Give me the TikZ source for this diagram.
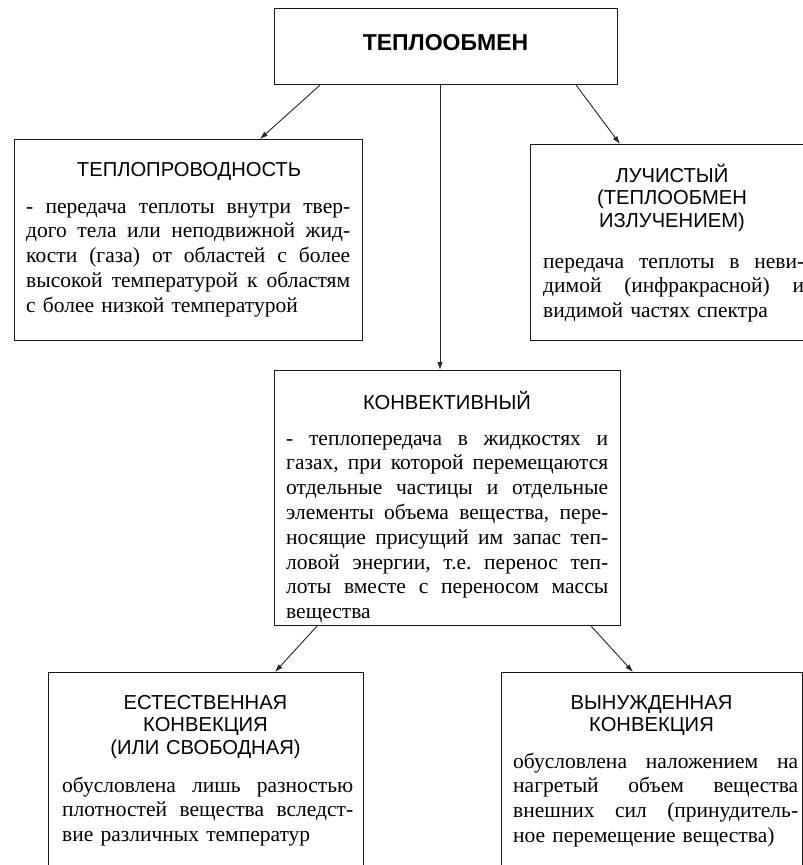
\documentclass[tikz,border=0pt]{standalone}
\usepackage{fontspec}
\setmainfont{Liberation Serif}
\newfontfamily\sansf{Liberation Sans}
\usetikzlibrary{arrows.meta,calc}
\frenchspacing
\newcommand{\jl}[1]{\makebox[\hsize][s]{\spaceskip=0pt\xspaceskip=0pt #1}\\}
\begin{document}
\begin{tikzpicture}[x=1pt,y=-1pt,
  box/.style={draw=black!90, line width=1.1pt, inner sep=0pt, anchor=north west, fill=none},
  arr/.style={draw=black!85, line width=0.9pt, -{Latex[length=8pt,width=5.5pt]}},
  ttl/.style={inner sep=0pt, anchor=base, align=center, text width=320pt,
    font=\sansf\fontsize{20.2}{22.8}\selectfont},
  body/.style={inner sep=0pt, anchor=base west,
    font=\frenchspacing\fontsize{21.5}{24.8}\selectfont}]
\fill[white] (0,0) rectangle (803,865);
\useasboundingbox (0,0) rectangle (803,865);
% boxes
\node[box, minimum width=343pt, minimum height=76pt] (top) at (274,8) {};
\node[box, minimum width=348pt, minimum height=201pt] (tp) at (14,139) {};
\node[box, minimum width=290pt, minimum height=196pt] (luch) at (530,144) {};
\node[box, minimum width=346pt, minimum height=255pt] (conv) at (274,370) {};
\node[box, minimum width=315pt, minimum height=240pt] (nat) at (48,672) {};
\node[box, minimum width=301pt, minimum height=240pt] (forc) at (501,672) {};
% titles
\node[ttl, font=\sansf\bfseries\fontsize{23}{26}\selectfont] (topt) at (445.5,50) {ТЕПЛООБМЕН};
\node[ttl] (tpt) at (189,176) {ТЕПЛОПРОВОДНОСТЬ};
\node[ttl] (lucht) at (672,182) {ЛУЧИСТЫЙ\\(ТЕПЛООБМЕН\\ИЗЛУЧЕНИЕМ)};
\node[ttl] (convt) at (447,409) {КОНВЕКТИВНЫЙ};
\node[ttl] (natt) at (205.5,709) {ЕСТЕСТВЕННАЯ\\КОНВЕКЦИЯ\\(ИЛИ СВОБОДНАЯ)};
\node[ttl] (forct) at (651.5,709) {ВЫНУЖДЕННАЯ\\КОНВЕКЦИЯ};
% bodies
\node[body, text width=324pt] (tpb) at (26,213) {%
\jl{- передача теплоты внутри твер-}%
\jl{дого тела или неподвижной жид-}%
\jl{кости (газа) от областей с более}%
\jl{высокой температурой к областям}%
с более низкой температурой};
\node[body, text width=261pt] (luchb) at (543,268) {%
\jl{передача теплоты в неви-}%
\jl{димой (инфракрасной) и}%
видимой частях спектра};
\node[body, text width=322pt] (convb) at (286,445) {%
\jl{- теплопередача в жидкостях и}%
\jl{газах, при которой перемещаются}%
\jl{отдельные частицы и отдельные}%
\jl{элементы объема вещества, пере-}%
\jl{носящие присущий им запас теп-}%
\jl{ловой энергии, т.е. перенос теп-}%
\jl{лоты вместе с переносом массы}%
вещества};
\node[body, text width=291pt] (natb) at (62,792) {%
\jl{обусловлена лишь разностью}%
\jl{плотностей вещества вследст-}%
вие различных температур};
\node[body, text width=285pt] (forcb) at (513,768) {%
\jl{обусловлена наложением на}%
\jl{нагретый объем вещества}%
\jl{внешних сил (принудитель-}%
ное перемещение вещества)};
% connectors
\draw[arr] ($(top.south west)+(46,0)$) -- ($(tp.north west)+(246,0)$);
\draw[arr] ($(top.south west)+(166,0)$) -- ($(conv.north west)+(166,0)$);
\draw[arr] ($(top.south east)+(-42,0)$) -- ($(luch.north west)+(90,0)$);
\draw[arr] ($(conv.south west)+(43,0)$) -- ($(nat.north west)+(227,0)$);
\draw[arr] ($(conv.south east)+(-30,0)$) -- ($(forc.north west)+(132,0)$);
\end{tikzpicture}
\end{document}
